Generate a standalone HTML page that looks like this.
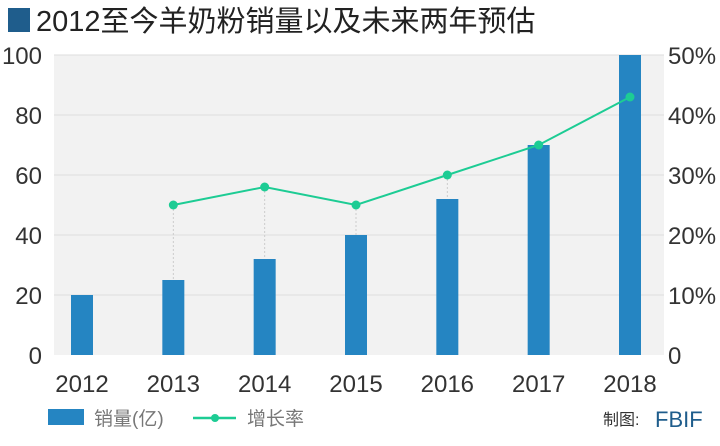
<!DOCTYPE html>
<html><head><meta charset="utf-8"><style>
body{margin:0;width:720px;height:441px;background:#fff;overflow:hidden;font-family:"Liberation Sans","Noto Sans CJK SC",sans-serif;}
</style></head><body>
<svg width="720" height="441" xmlns="http://www.w3.org/2000/svg">
<rect x="8" y="8" width="22" height="24" fill="#1f5d8c"/>
<text x="36" y="31" font-size="29" fill="#222" font-family="Liberation Sans,Noto Sans CJK SC,sans-serif">2012至今羊奶粉销量以及未来两年预估</text>
<rect x="54" y="55" width="610" height="300" fill="#f2f2f2"/>
<g id="grid"></g><g id="bars"></g><g id="line"></g><g id="axes"></g>
<g>
<rect x="48" y="409" width="36" height="16" fill="#2585c2"/>
<text x="94" y="425" font-size="19" fill="#777">销量(亿)</text>
<line x1="193" y1="418" x2="236" y2="418" stroke="#1dcc94" stroke-width="2.5"/>
<circle cx="215" cy="418" r="4" fill="#1dcc94"/>
<text x="247" y="425" font-size="19" fill="#777">增长率</text>
<text x="603" y="425" font-size="16" fill="#333">制图:</text>
<text x="655" y="427" font-size="22" fill="#1f5d8c">FBIF</text>
</g>
</svg>
<script>
const categories=["2012","2013","2014","2015","2016","2017","2018"];
const sales=[20,25,32,40,52,70,100];
const growth=[null,25,28,25,30,35,43];
const leftTicks=[0,20,40,60,80,100];
const rightTicks=["0","10%","20%","30%","40%","50%"];
const NS="http://www.w3.org/2000/svg";
const x0=54,x1=664,yB=355,yT=55;
const firstC=82,lastC=630;
const step=(lastC-firstC)/(categories.length-1);
const xc=i=>firstC+step*i;
const yL=v=>yB-(v/100)*(yB-yT);
const yR=v=>yB-(v/50)*(yB-yT);
function mk(tag,attrs,parent){const e=document.createElementNS(NS,tag);for(const k in attrs)e.setAttribute(k,attrs[k]);document.getElementById(parent).appendChild(e);return e;}
leftTicks.forEach((t,i)=>{
 const y=yL(t);
 if(t>0){const g=mk('line',{x1:x0,x2:x1,y1:y,y2:y,stroke:'#dedede','stroke-width':1},'grid');
 
 }
 const l=mk('text',{x:42,y:y+9,'font-size':24,fill:'#333','text-anchor':'end'},'axes');l.textContent=t;
 
 
 const r=mk('text',{x:668,y:y+9,'font-size':24,fill:'#333'},'axes');r.textContent=rightTicks[i];
 
 
});
categories.forEach((c,i)=>{
 const b=mk('rect',{x:xc(i)-11,y:yL(sales[i]),width:22,height:yB-yL(sales[i]),fill:'#2585c2'},'bars');
 
 
 const t=mk('text',{x:xc(i),y:392,'font-size':24,fill:'#333','text-anchor':'middle'},'axes');t.textContent=c;
 
 
});
let pts=[];
growth.forEach((g,i)=>{if(g==null)return;
 const y=yR(g);pts.push(xc(i)+','+y);
 if(y<yL(sales[i])){const d=mk('line',{x1:xc(i),x2:xc(i),y1:y,y2:yL(sales[i]),stroke:'#ccc','stroke-dasharray':'2,2'},'line');
 
 }
});
const pl=mk('polyline',{points:pts.join(' '),fill:'none',stroke:'#1dcc94','stroke-width':2},'line');


growth.forEach((g,i)=>{if(g==null)return;
 const c=mk('circle',{cx:xc(i),cy:yR(g),r:4.5,fill:'#1dcc94'},'line');
 
 
});
</script>
</body></html>
